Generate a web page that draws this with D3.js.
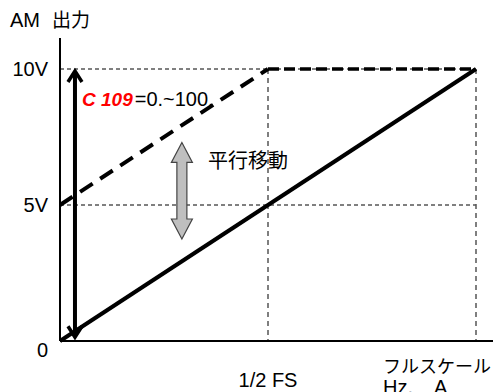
<!DOCTYPE html>
<html>
<head>
<meta charset="utf-8">
<script src="https://cdn.jsdelivr.net/npm/d3@7"></script>
<style>
  body { margin: 0; background: #fff; }
  text { font-family: "Liberation Sans", Arial, "Noto Sans CJK JP", sans-serif; }
  .jp { font-family: "Noto Sans CJK JP", sans-serif; }
</style>
</head>
<body>
<div id="chart"></div>
<script>
// values (x: fraction of full scale, y: volts)
var yTicks = [0, 5, 10];
var yTickLabels = ["0", "5V", "10V"];
var xGuides = [0.5, 1];
var xLabels = ["1/2 FS"];
var solidLine = [[0, 0], [1, 10]];
var shiftedLine = [[0, 5], [0.5, 10]];
var topSegment = [[0.5, 10], [1, 10]];
var rangeArrow = [0.036, 10, 0.25];     // x, top, bottom
var shiftArrow = [0.293, 7.3, 3.75];

var width = 493, height = 392;
var svg = d3.select("#chart").append("svg")
  .attr("width", width).attr("height", height);

var x = d3.scaleLinear().domain([0, 1]).range([60, 476]);
var y = d3.scaleLinear().domain([0, 10]).range([341, 69]);

var line = d3.line().x(function(d) { return x(d[0]); }).y(function(d) { return y(d[1]); });

// thin guide lines
svg.selectAll(".hguide").data([5, 10]).enter().append("line")
  .attr("class", "hguide")
  .attr("x1", x(0)).attr("x2", x(1))
  .attr("y1", function(d) { return y(d); }).attr("y2", function(d) { return y(d); })
  .attr("stroke", "#000").attr("stroke-width", 1).attr("stroke-dasharray", "4,3");
svg.selectAll(".vguide").data(xGuides).enter().append("line")
  .attr("class", "vguide")
  .attr("x1", function(d) { return x(d); }).attr("x2", function(d) { return x(d); })
  .attr("y1", y(10)).attr("y2", y(0))
  .attr("stroke", "#555").attr("stroke-width", 1.5).attr("stroke-dasharray", "5,4");

// axes
svg.append("line").attr("x1", x(0)).attr("x2", x(0)).attr("y1", 38).attr("y2", y(0))
  .attr("stroke", "#000").attr("stroke-width", 2);
svg.append("line").attr("x1", x(0)).attr("x2", width).attr("y1", y(0)).attr("y2", y(0))
  .attr("stroke", "#000").attr("stroke-width", 2);

// lines
svg.append("path").datum(solidLine).attr("d", line)
  .attr("fill", "none").attr("stroke", "#000").attr("stroke-width", 4);
svg.append("path").datum(shiftedLine).attr("d", line)
  .attr("fill", "none").attr("stroke", "#000").attr("stroke-width", 4)
  .attr("stroke-dasharray", "15,9");
svg.append("path").datum(topSegment).attr("d", line)
  .attr("fill", "none").attr("stroke", "#000").attr("stroke-width", 3.5)
  .attr("stroke-dasharray", "11,5");

// black range arrow
var ax = x(rangeArrow[0]), aTop = y(rangeArrow[1]) + 2, aBot = y(rangeArrow[2]) + 3;
svg.append("line").attr("x1", ax).attr("x2", ax).attr("y1", aTop + 1).attr("y2", aBot - 1)
  .attr("stroke", "#000").attr("stroke-width", 4);
svg.append("path")
  .attr("d", "M" + (ax - 7) + "," + (aTop + 11) + "L" + ax + "," + aTop + "L" + (ax + 7) + "," + (aTop + 11))
  .attr("fill", "none").attr("stroke", "#000").attr("stroke-width", 3.5);
svg.append("path")
  .attr("d", "M" + (ax - 7) + "," + (aBot - 11) + "L" + ax + "," + aBot + "L" + (ax + 7) + "," + (aBot - 11))
  .attr("fill", "none").attr("stroke", "#000").attr("stroke-width", 3.5);

// grey shift arrow
var gx = x(shiftArrow[0]), gTop = y(shiftArrow[1]), gBot = y(shiftArrow[2]);
var hw = 10.5, bw = 5, hl = 20;
svg.append("path")
  .attr("d", "M" + gx + "," + gTop +
    "L" + (gx + hw) + "," + (gTop + hl) + "L" + (gx + bw) + "," + (gTop + hl) +
    "L" + (gx + bw) + "," + (gBot - hl) + "L" + (gx + hw) + "," + (gBot - hl) +
    "L" + gx + "," + gBot +
    "L" + (gx - hw) + "," + (gBot - hl) + "L" + (gx - bw) + "," + (gBot - hl) +
    "L" + (gx - bw) + "," + (gTop + hl) + "L" + (gx - hw) + "," + (gTop + hl) + "Z")
  .attr("fill", "#bfbfbf").attr("stroke", "#444").attr("stroke-width", 1.2);

// tick labels
svg.selectAll(".ylab").data(yTicks).enter().append("text")
  .attr("class", "ylab")
  .attr("x", 48).attr("y", function(d) { return y(d) + (d === 0 ? 16 : 7); })
  .attr("text-anchor", "end").attr("font-size", 20)
  .text(function(d, i) { return yTickLabels[i]; });

svg.selectAll(".xlab").data(xLabels).enter().append("text")
  .attr("class", "xlab")
  .attr("x", x(0.5)).attr("y", 387)
  .attr("text-anchor", "middle").attr("font-size", 20)
  .text(function(d) { return d; });

svg.append("text").attr("x", 383).attr("y", 373).attr("font-size", 18).attr("class", "jp")
  .text("フルスケール");
svg.append("text").attr("x", 383).attr("y", 394).attr("font-size", 20)
  .attr("xml:space", "preserve").text("Hz,    A");

// titles
svg.append("text").attr("x", 10).attr("y", 27).attr("font-size", 20)
  .text("AM");
svg.append("text").attr("x", 52).attr("y", 27).attr("font-size", 19).attr("class", "jp")
  .text("出力");

svg.append("text").attr("x", 208).attr("y", 168).attr("font-size", 20).attr("class", "jp")
  .text("平行移動");

var code = svg.append("text").attr("x", 82).attr("y", 106).attr("font-size", 20)
  .attr("xml:space", "preserve");
code.append("tspan").attr("fill", "#ff0000").attr("font-style", "italic")
  .attr("font-weight", "bold").attr("font-size", 19).text("C 109");
code.append("tspan").attr("fill", "#000").attr("dx", 2).text("=0.~100.");
</script>
</body>
</html>
